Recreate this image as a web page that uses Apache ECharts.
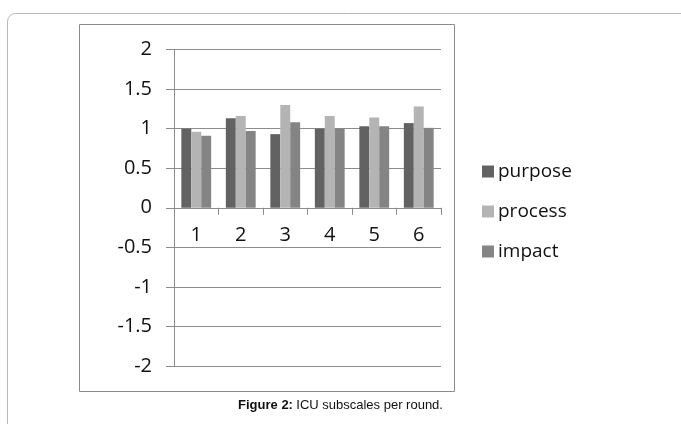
<!DOCTYPE html>
<html><head><meta charset="utf-8">
<script src="https://cdn.jsdelivr.net/npm/echarts@6/dist/echarts.min.js"></script>
<style>html,body{margin:0;padding:0;background:#fff}#c{width:681px;height:424px}</style>
</head><body><div id="c"></div>
<script>
const categories = ['1','2','3','4','5','6'];
const purpose = [1.00, 1.13, 0.93, 1.00, 1.03, 1.07];
const processV = [0.96, 1.16, 1.30, 1.16, 1.14, 1.28];
const impact = [0.91, 0.97, 1.08, 1.00, 1.03, 1.01];
const yTicks = [-2, -1.5, -1, -0.5, 0, 0.5, 1, 1.5, 2];

const chart = echarts.init(document.getElementById('c'));
const font = '"Open Sans", Lato, sans-serif';
const lineCol = '#8c8c8c';
const gridH = 316.5;
chart.setOption({
  animation: false,
  textStyle: {fontFamily: font},
  grid: {left: 174, top: 49.5, width: 267, height: gridH, containLabel: false},
  graphic: [
    {type: 'rect', shape: {x: 7.5, y: 13.5, width: 690, height: 430, r: 8}, style: {fill: 'none', stroke: '#b8b8b8', lineWidth: 1}, z: -10},
    {type: 'rect', shape: {x: 79.5, y: 24.5, width: 375, height: 367}, style: {fill: 'none', stroke: '#8a8a8a', lineWidth: 1}, z: -9},
    {type: 'text', left: 'center', top: 399, style: {
      text: '{b|Figure 2:} {n|ICU subscales per round.}',
      rich: {b: {fontFamily: '"Liberation Sans", Arial', fontWeight: 'bold', fontSize: 13, fill: '#111'},
             n: {fontFamily: '"Liberation Sans", Arial', fontSize: 13, fill: '#111'}}
    }}
  ],
  legend: {
    orient: 'vertical', left: 477, top: 157, itemGap: 21, itemWidth: 12, itemHeight: 12,
    icon: 'rect', textStyle: {fontFamily: font, fontSize: 19, color: '#111', padding: [0,0,0,-1]},
    data: ['purpose', 'process', 'impact']
  },
  xAxis: {
    type: 'category', data: categories, position: 'bottom', offset: -gridH / 2,
    axisLine: {onZero: false, lineStyle: {color: lineCol}},
    axisTick: {show: true, length: 7, lineStyle: {color: lineCol}},
    axisLabel: {fontSize: 20, color: '#111', margin: 18, fontFamily: font},
    splitLine: {show: false}
  },
  yAxis: {
    type: 'value', min: -2, max: 2, interval: 0.5,
    axisLine: {show: true, lineStyle: {color: lineCol}},
    axisTick: {show: true, length: 8, lineStyle: {color: lineCol}},
    axisLabel: {fontSize: 20, color: '#111', margin: 22, fontFamily: font,
      formatter: v => yTicks.includes(v) ? String(v) : ''},
    splitLine: {show: true, lineStyle: {color: lineCol, width: 1}}
  },
  series: [
    {name: 'purpose', type: 'bar', data: purpose, itemStyle: {color: '#626262'}, barGap: '0%', barCategoryGap: '33%'},
    {name: 'process', type: 'bar', data: processV, itemStyle: {color: '#b4b4b4'}},
    {name: 'impact', type: 'bar', data: impact, itemStyle: {color: '#848484'}}
  ]
});
</script></body></html>
